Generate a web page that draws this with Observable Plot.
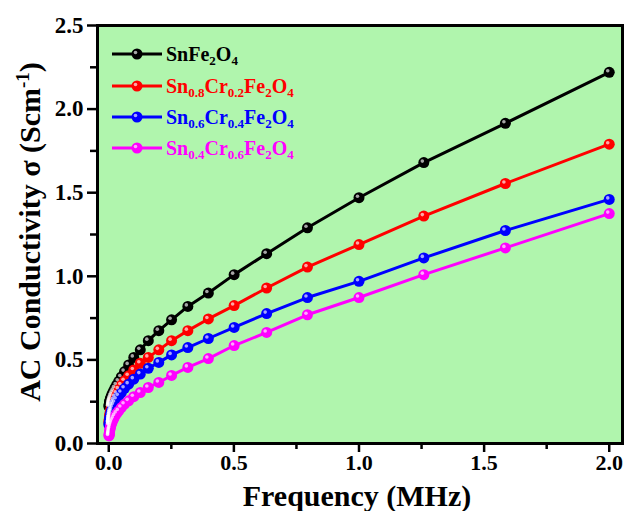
<!DOCTYPE html>
<html><head><meta charset="utf-8">
<script src="https://cdn.jsdelivr.net/npm/d3@7"></script>
<script src="https://cdn.jsdelivr.net/npm/@observablehq/plot@0.6"></script>
<style>
body{margin:0;background:#fff;}
#wrap{position:relative;width:629px;height:511px;font-family:"Liberation Serif",serif;font-weight:bold;}
#wrap svg{display:block;overflow:visible}
.row{position:absolute;left:111px;height:28px;white-space:nowrap;font-size:20px;display:flex;align-items:center;font-family:"Liberation Serif",serif;font-weight:bold}
.row sub{font-size:13px;vertical-align:-4px;line-height:0}
.row svg{margin-right:3px}
</style></head><body><div id="wrap"></div>
<script>
// Frequency (MHz)
const freq = [0.001,0.00126,0.00158,0.002,0.00251,0.00316,0.00398,0.00501,0.00631,0.00794,
  0.01,0.0126,0.0158,0.02,0.0251,0.0316,0.0398,0.0501,0.0631,0.0794,
  0.1,0.126,0.158,0.2,0.251,0.316,0.398,0.501,0.631,0.794,
  1.0,1.259,1.585,2.0];
// AC conductivity (S/cm)
const snFe2O4 = [0.22,0.225,0.23,0.235,0.24,0.246,0.252,0.258,0.265,0.273,
  0.282,0.292,0.303,0.316,0.332,0.35,0.372,0.398,0.43,0.47,
  0.515,0.56,0.615,0.675,0.74,0.82,0.90,1.01,1.135,1.29,
  1.47,1.68,1.915,2.22];
const cr02 = [0.124,0.13,0.138,0.145,0.152,0.16,0.17,0.18,0.19,0.2,
  0.215,0.23,0.245,0.26,0.28,0.30,0.325,0.35,0.375,0.405,
  0.44,0.48,0.515,0.56,0.615,0.675,0.745,0.825,0.93,1.055,
  1.19,1.36,1.555,1.79];
const cr04 = [0.11,0.116,0.122,0.128,0.135,0.142,0.15,0.158,0.168,0.178,
  0.19,0.2,0.215,0.23,0.245,0.265,0.285,0.305,0.33,0.355,
  0.385,0.415,0.45,0.485,0.53,0.574,0.628,0.694,0.777,0.873,
  0.97,1.11,1.274,1.46];
const cr06 = [0.045,0.05,0.055,0.06,0.066,0.073,0.08,0.088,0.096,0.105,
  0.115,0.126,0.138,0.15,0.165,0.18,0.195,0.215,0.235,0.255,
  0.28,0.305,0.335,0.365,0.407,0.455,0.508,0.586,0.664,0.77,
  0.873,1.01,1.17,1.375];
const seriesNames = ["SnFe2O4","Sn0.8Cr0.2Fe2O4","Sn0.6Cr0.4Fe2O4","Sn0.4Cr0.6Fe2O4"];
const seriesLabels = ["SnFe<sub>2</sub>O<sub>4</sub>",
  "Sn<sub>0.8</sub>Cr<sub>0.2</sub>Fe<sub>2</sub>O<sub>4</sub>",
  "Sn<sub>0.6</sub>Cr<sub>0.4</sub>Fe<sub>2</sub>O<sub>4</sub>",
  "Sn<sub>0.4</sub>Cr<sub>0.6</sub>Fe<sub>2</sub>O<sub>4</sub>"];
const colors = ["#000000","#ff0000","#0000ff","#ff00ff"];
const xTicks = [0,0.5,1,1.5,2];
const xMinor = [0.25,0.75,1.25,1.75];
const yTicks = [0,0.5,1,1.5,2,2.5];
const yMinor = [0.25,0.75,1.25,1.75,2.25];
const bg = "#b0f5ad";

const values = [snFe2O4, cr02, cr04, cr06];
const data = [];
seriesNames.forEach((s, i) => freq.forEach((f, j) => data.push({s, f, v: values[i][j]})));

const font = "Liberation Serif";
const chart = Plot.plot({
  width: 629, height: 511,
  marginLeft: 97, marginRight: 7, marginTop: 25, marginBottom: 68,
  style: {background: "white", fontFamily: font, fontWeight: "bold", color: "black", overflow: "visible"},
  x: {domain: [-0.045, 2.053], label: null},
  y: {domain: [0, 2.5], label: null},
  color: {domain: seriesNames, range: colors},
  marks: [
    Plot.frame({fill: bg, stroke: null}),
    Plot.axisX({ticks: xMinor, tickSize: 6, strokeWidth: 2.5, tickFormat: () => "", label: null}),
    Plot.axisX({ticks: xTicks, tickSize: 9, strokeWidth: 2.5, tickPadding: 2, tickFormat: d3.format(".1f"), fontSize: 22, fontWeight: "bold", label: null}),
    Plot.axisY({ticks: yMinor, tickSize: 7, strokeWidth: 2.5, tickFormat: () => "", label: null}),
    Plot.axisY({ticks: yTicks, tickSize: 10, strokeWidth: 2.5, tickPadding: 4, tickFormat: d3.format(".1f"), fontSize: 23, fontWeight: "bold", label: null}),
    Plot.line(data, {x: "f", y: "v", z: "s", stroke: "s", strokeWidth: 3}),
    Plot.dot(data, {x: "f", y: "v", fill: "s", r: 5.5}),
    Plot.dot(data, {x: "f", y: "v", fill: "white", fillOpacity: 0.65, r: 1.8, dx: -1.5, dy: -1.5}),
    Plot.frame({stroke: "black", strokeWidth: 3})
  ]
});
const wrap = document.getElementById("wrap");
wrap.appendChild(chart);

// axis titles
const svg = d3.select(chart);
const yt = svg.append("text")
  .attr("transform", "translate(40,232) rotate(-90)")
  .attr("text-anchor", "middle")
  .style("font-family", "'Liberation Serif', serif").attr("font-weight", "bold").attr("font-size", 30).attr("fill", "black");
yt.append("tspan").text("AC Conductivity σ (Scm");
yt.append("tspan").attr("font-size", 19).attr("dy", -11).text("-1");
yt.append("tspan").attr("dy", 11).text(")");
svg.append("text")
  .attr("x", 357).attr("y", 506)
  .attr("text-anchor", "middle")
  .style("font-family", "'Liberation Serif', serif").attr("font-weight", "bold").attr("font-size", 30).attr("fill", "black")
  .text("Frequency (MHz)");

// legend
const rowY = [54, 86, 117, 148];
seriesNames.forEach((s, i) => {
  const row = document.createElement("div");
  row.className = "row";
  row.style.top = (rowY[i] - 14) + "px";
  row.style.color = colors[i];
  row.innerHTML = `<svg width="52" height="16"><line x1="1" x2="51" y1="8" y2="8" stroke="${colors[i]}" stroke-width="3"/><circle cx="26" cy="8" r="5.5" fill="${colors[i]}"/><circle cx="24.5" cy="6.5" r="1.8" fill="white" fill-opacity="0.65"/></svg><span>${seriesLabels[i]}</span>`;
  wrap.appendChild(row);
});
</script></body></html>
